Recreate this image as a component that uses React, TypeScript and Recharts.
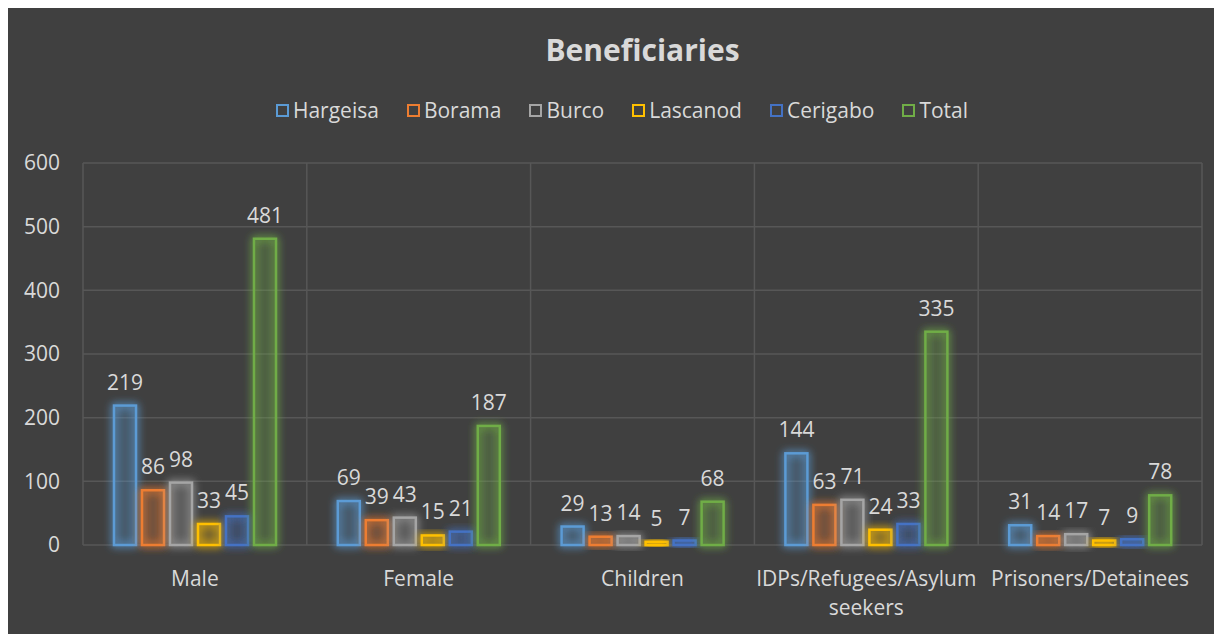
import React from 'react';
import { BarChart, Bar, XAxis, YAxis, CartesianGrid, Legend, LabelList } from 'recharts';

const categories = ['Male', 'Female', 'Children', 'IDPs/Refugees/Asylum seekers', 'Prisoners/Detainees'];
const hargeisa = [219, 69, 29, 144, 31];
const borama = [86, 39, 13, 63, 14];
const burco = [98, 43, 14, 71, 17];
const lascanod = [33, 15, 5, 24, 7];
const cerigabo = [45, 21, 7, 33, 9];
const total = [481, 187, 68, 335, 78];
const yTicks = [0, 100, 200, 300, 400, 500, 600];

const series = [
  { key: 'Hargeisa', color: '#5B9BD5' },
  { key: 'Borama', color: '#ED7D31' },
  { key: 'Burco', color: '#A5A5A5' },
  { key: 'Lascanod', color: '#FFC000' },
  { key: 'Cerigabo', color: '#4472C4' },
  { key: 'Total', color: '#70AD47' },
];

const data = categories.map((name, i) => ({
  name,
  Hargeisa: hargeisa[i],
  Borama: borama[i],
  Burco: burco[i],
  Lascanod: lascanod[i],
  Cerigabo: cerigabo[i],
  Total: total[i],
}));

const FONT = '"Open Sans", sans-serif';
const TEXT = '#d9d9d9';
const FS = 21;

// greedy word wrap measured with a canvas
let ctx: CanvasRenderingContext2D | null = null;
const wrap = (text: string, maxWidth: number) => {
  if (!ctx) {
    ctx = document.createElement('canvas').getContext('2d');
  }
  if (ctx) ctx.font = `${FS}px ${FONT}`;
  const measure = (s: string) => (ctx ? ctx.measureText(s).width : s.length * FS * 0.55);
  const lines: string[] = [];
  let line = '';
  text.split(' ').forEach((w) => {
    const next = line ? `${line} ${w}` : w;
    if (line && measure(next) > maxWidth) {
      lines.push(line);
      line = w;
    } else {
      line = next;
    }
  });
  if (line) lines.push(line);
  return lines;
};

const XTick = (props: any) => {
  const { x, y, payload } = props;
  const lines = wrap(String(payload.value), 222);
  return (
    <text x={x} y={y + 39} textAnchor="middle" fill={TEXT} fontSize={FS} fontFamily={FONT}>
      {lines.map((l, i) => (
        <tspan key={i} x={x} dy={i === 0 ? 0 : 29}>{l}</tspan>
      ))}
    </text>
  );
};

const GlowBar = (props: any) => {
  const { x, y, width, height, stroke } = props;
  if (!height || height <= 0) return null;
  return (
    <rect x={x} y={y} width={width} height={height} fill={stroke} fillOpacity={0.12}
      stroke={stroke} strokeWidth={2.5} filter="url(#glow)" />
  );
};

const LegendContent = () => (
  <div style={{ display: 'flex', justifyContent: 'center', paddingLeft: 14, fontFamily: FONT, fontSize: FS, color: TEXT }}>
    {series.map((s) => (
      <div key={s.key} style={{ display: 'flex', alignItems: 'center', margin: '0 14px' }}>
        <span style={{ width: 13, height: 13, border: `2px solid ${s.color}`, boxSizing: 'border-box', marginRight: 4 }} />
        <span>{s.key}</span>
      </div>
    ))}
  </div>
);

const App = () => {
  return (
    <div style={{ position: 'relative', marginLeft: -2, marginTop: -5, width: 1216, height: 631, boxSizing: 'border-box',
      background: '#404040', borderLeft: '2px solid #d0d0d0', borderTop: '2px solid #d0d0d0' }}>
      <div style={{ position: 'absolute', left: 75, top: 29, width: 1119, textAlign: 'center', lineHeight: '32px',
        fontFamily: FONT, fontWeight: 700, fontSize: 30, color: TEXT, zIndex: 2 }}>
        Beneficiaries
      </div>
      <BarChart width={1214} height={629} data={data} barSize={22} barGap={6}
        margin={{ top: 158, right: 20, bottom: 29, left: 0 }}>
        <defs>
          <filter id="glow" x="-60%" y="-60%" width="220%" height="220%">
            <feGaussianBlur in="SourceGraphic" stdDeviation="4" result="blur" />
            <feComponentTransfer in="blur" result="soft">
              <feFuncA type="linear" slope="1.6" />
            </feComponentTransfer>
            <feMerge>
              <feMergeNode in="soft" />
              <feMergeNode in="SourceGraphic" />
            </feMerge>
          </filter>
        </defs>
        <CartesianGrid stroke="#575757" strokeWidth={1.5}
          verticalCoordinatesGenerator={({ offset }: any) =>
            [0, 1, 2, 3, 4, 5].map((i) => offset.left + (i * offset.width) / 5)} />
        <XAxis dataKey="name" height={60} axisLine={false} tickLine={false} tickSize={0} interval={0} tick={<XTick />} />
        <YAxis width={75} domain={[0, 600]} ticks={yTicks} axisLine={false} tickLine={false} tickSize={0} tickMargin={23}
          tick={{ fill: TEXT, fontSize: FS, fontFamily: FONT }} />
        <Legend verticalAlign="middle" wrapperStyle={{ top: 91, left: 0, width: 1214 }} content={<LegendContent />} />
        {series.map((s) => (
          <Bar key={s.key} dataKey={s.key} stroke={s.color} fill={s.color} shape={<GlowBar />} isAnimationActive={false}>
            <LabelList dataKey={s.key} position="top" offset={16} fill={TEXT} fontSize={FS} fontFamily={FONT} />
          </Bar>
        ))}
      </BarChart>
    </div>
  );
};

export default App;
